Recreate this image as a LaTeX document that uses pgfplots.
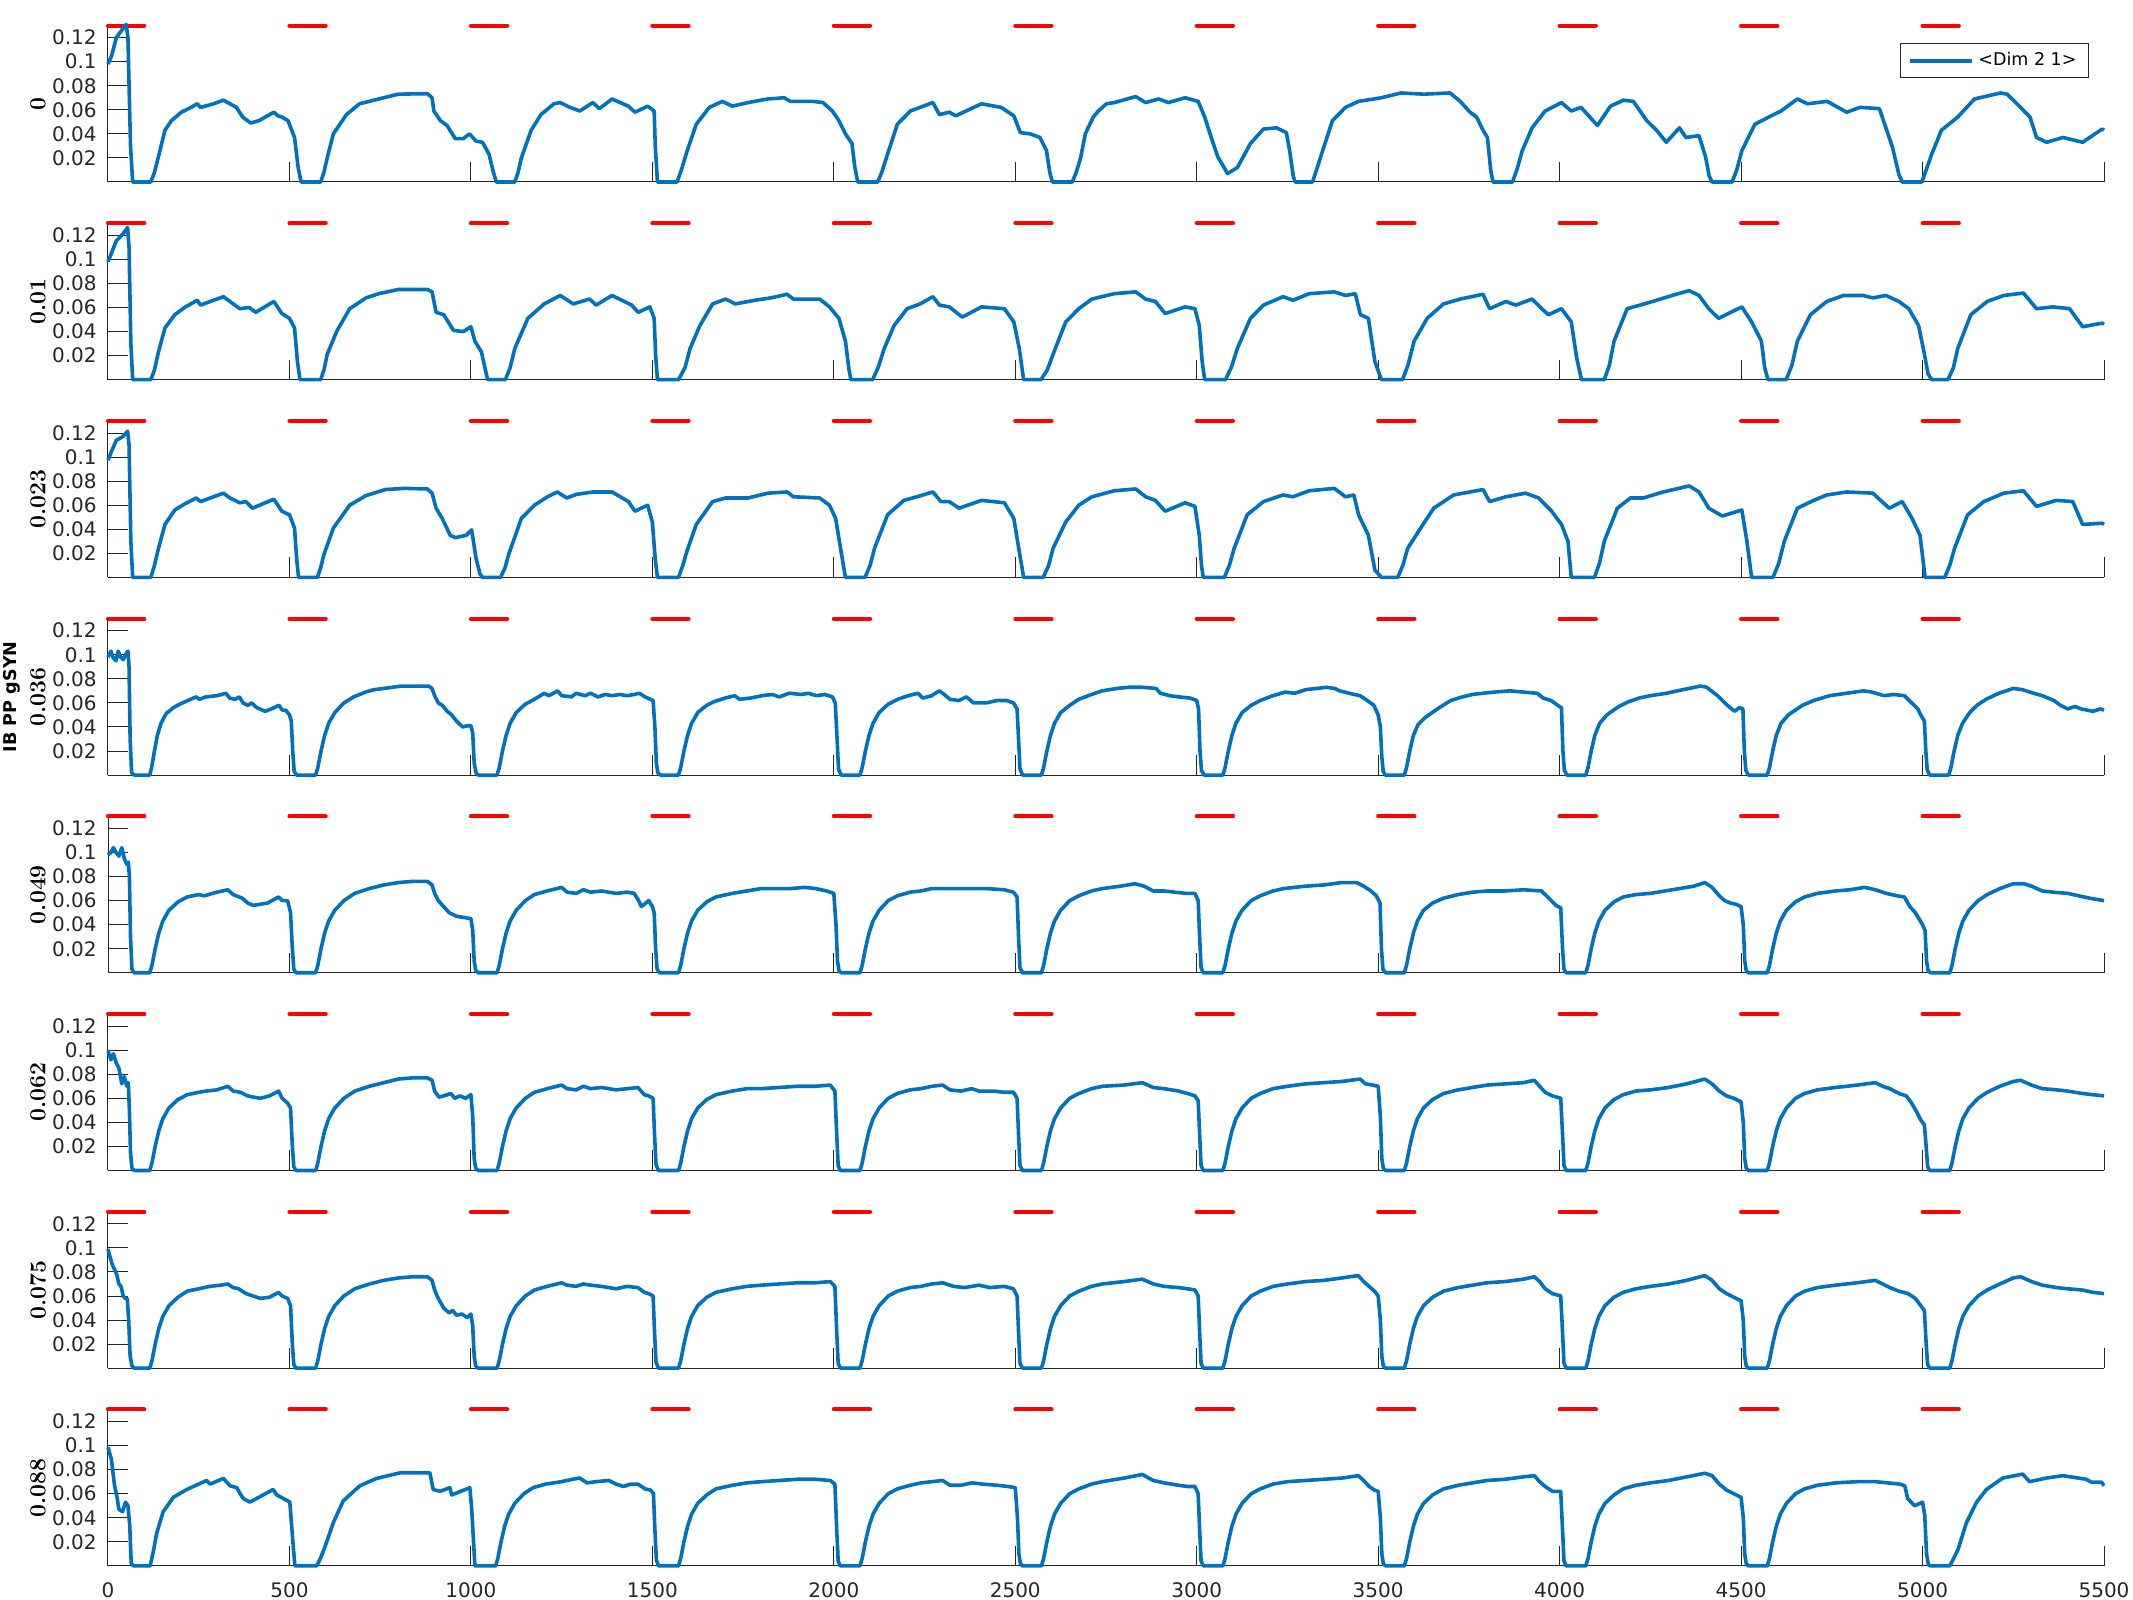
\documentclass[border=0pt]{standalone}
\usepackage{fontspec}
\usepackage{pgfplots}
\pgfplotsset{compat=1.18}
\newfontfamily\dejavu{DejaVu Sans}
\definecolor{mblue}{RGB}{0,114,189}
\definecolor{axgray}{RGB}{38,38,38}
\pgfplotsset{
 panel/.style={
  scale only axis, width=998pt, height=78.2pt,
  xmin=0, xmax=5500, ymin=0, ymax=0.13,
  axis lines*=left, axis line style={-, draw=axgray, line width=0.5pt},
  tick align=inside, major tick length=10pt,
  tick style={draw=axgray, line width=0.5pt},
  xtick={0,500,1000,1500,2000,2500,3000,3500,4000,4500,5000,5500}, xticklabels={},
  ytick={0.02,0.04,0.06,0.08,0.1,0.12},
  yticklabels={0.02,0.04,0.06,0.08,0.1,0.12},
  yticklabel style={font=\dejavu\fontsize{10}{12}\selectfont, text=axgray, inner sep=0pt, xshift=-5.5pt},
  every axis y label/.style={at={(axis description cs:0,0.5)}, xshift=-35pt, rotate=90, anchor=center, font=\bfseries\fontsize{11.5}{13}\selectfont},
  clip=false, anchor=south west,
 },
 sig/.style={mblue, line width=1.8pt, line join=round},
}
\newcommand{\redsegs}{\addplot[red, line width=2pt, line cap=round, unbounded coords=jump, forget plot] coordinates {(0,0.13) (100,0.13) (100,nan) (500,0.13) (600,0.13) (600,nan) (1000,0.13) (1100,0.13) (1100,nan) (1500,0.13) (1600,0.13) (1600,nan) (2000,0.13) (2100,0.13) (2100,nan) (2500,0.13) (2600,0.13) (2600,nan) (3000,0.13) (3100,0.13) (3100,nan) (3500,0.13) (3600,0.13) (3600,nan) (4000,0.13) (4100,0.13) (4100,nan) (4500,0.13) (4600,0.13) (4600,nan) (5000,0.13) (5100,0.13)};}
\begin{document}
\begin{tikzpicture}
\path[use as bounding box] (0,0) rectangle (1066.5pt,800pt);
% panel 1
\begin{axis}[panel, at={(54pt,709pt)}, ylabel={0},
 legend style={at={(1,1)}, anchor=north east, xshift=-7.5pt, yshift=-8.7pt, draw=axgray, line width=0.5pt, font=\dejavu\fontsize{8.75}{10}\selectfont, inner xsep=4pt, inner ysep=2.5pt},
 legend image code/.code={\draw[#1, line width=2pt] (0pt,0pt) -- (31pt,0pt);}]
\redsegs
\addplot[sig] coordinates {(0,0.098) (10,0.105) (23,0.12) (40,0.127) (50,0.131) (55,0.12) (62,0.03) (68,0) (118,0) (128,0.008) (139,0.021) (157,0.043) (175,0.051) (202,0.058) (229,0.062) (246,0.065) (255,0.062) (291,0.065) (318,0.068) (336,0.065) (354,0.062) (371,0.054) (393,0.049) (416,0.051) (457,0.058) (468,0.055) (479,0.054) (496,0.051) (514,0.037) (524,0.012) (532,0) (586,0) (595,0.008) (604,0.02) (621,0.04) (657,0.056) (693,0.065) (746,0.069) (800,0.073) (880,0.0734) (893,0.070) (898,0.059) (916,0.051) (934,0.047) (957,0.036) (979,0.036) (996,0.040) (1014,0.034) (1032,0.033) (1050,0.023) (1062,0.008) (1070,0) (1121,0) (1130,0.008) (1139,0.02) (1166,0.043) (1193,0.056) (1229,0.065) (1246,0.066) (1273,0.062) (1300,0.059) (1336,0.066) (1354,0.061) (1389,0.069) (1434,0.063) (1452,0.058) (1487,0.063) (1505,0.059) (1508,0.03) (1514,0) (1568,0) (1580,0.01) (1596,0.026) (1621,0.048) (1657,0.062) (1693,0.067) (1720,0.063) (1764,0.066) (1818,0.069) (1863,0.070) (1880,0.067) (1943,0.067) (1970,0.066) (1996,0.059) (2014,0.051) (2032,0.040) (2050,0.032) (2058,0.012) (2066,0) (2121,0) (2132,0.008) (2148,0.023) (2175,0.048) (2211,0.059) (2273,0.066) (2291,0.056) (2318,0.058) (2336,0.055) (2407,0.065) (2461,0.062) (2496,0.055) (2514,0.041) (2541,0.040) (2568,0.037) (2586,0.026) (2595,0.008) (2602,0) (2657,0) (2668,0.008) (2680,0.02) (2693,0.04) (2715,0.054) (2729,0.059) (2751,0.065) (2773,0.066) (2832,0.071) (2859,0.066) (2895,0.069) (2922,0.066) (2968,0.070) (3004,0.067) (3022,0.054) (3040,0.037) (3058,0.021) (3085,0.007) (3112,0.012) (3148,0.032) (3184,0.044) (3220,0.045) (3247,0.041) (3256,0.026) (3266,0.005) (3271,0) (3319,0) (3330,0.01) (3347,0.026) (3374,0.051) (3410,0.062) (3446,0.067) (3509,0.070) (3563,0.074) (3626,0.073) (3698,0.074) (3726,0.067) (3753,0.058) (3771,0.054) (3789,0.043) (3801,0.037) (3810,0.01) (3816,0) (3870,0) (3882,0.01) (3897,0.026) (3924,0.045) (3960,0.059) (4005,0.066) (4032,0.059) (4059,0.062) (4104,0.047) (4140,0.063) (4176,0.068) (4203,0.067) (4240,0.051) (4267,0.043) (4294,0.033) (4330,0.045) (4348,0.037) (4384,0.0385) (4402,0.021) (4412,0.005) (4420,0) (4475,0) (4488,0.01) (4502,0.026) (4538,0.048) (4583,0.055) (4610,0.059) (4655,0.069) (4683,0.065) (4737,0.067) (4791,0.058) (4827,0.062) (4881,0.061) (4917,0.029) (4935,0.006) (4944,0) (4998,0) (5010,0.01) (5025,0.023) (5052,0.043) (5097,0.054) (5143,0.069) (5215,0.074) (5233,0.073) (5260,0.065) (5296,0.054) (5314,0.037) (5342,0.033) (5387,0.037) (5441,0.033) (5495,0.044) (5500,0.043)};
\addlegendentry{<Dim 2 1>}
\end{axis}
% panel 2
\begin{axis}[panel, at={(54pt,610.15pt)}, ylabel={0.01}]
\redsegs
\addplot[sig] coordinates {(0,0.098) (23,0.1155) (41,0.121) (54,0.1265) (58,0.11) (63,0.03) (68,0) (118,0) (128,0.008) (139,0.023) (157,0.043) (184,0.054) (211,0.060) (246,0.066) (255,0.062) (318,0.069) (336,0.065) (363,0.059) (389,0.060) (407,0.056) (457,0.065) (479,0.055) (500,0.051) (514,0.043) (522,0.015) (529,0) (586,0) (595,0.008) (604,0.021) (630,0.040) (666,0.059) (711,0.068) (746,0.0715) (800,0.075) (880,0.075) (893,0.073) (904,0.056) (925,0.054) (952,0.041) (979,0.040) (1000,0.044) (1011,0.032) (1029,0.023) (1040,0.008) (1046,0) (1095,0) (1108,0.01) (1121,0.026) (1157,0.051) (1202,0.063) (1246,0.070) (1282,0.063) (1327,0.067) (1345,0.062) (1389,0.070) (1443,0.062) (1461,0.056) (1493,0.0605) (1505,0.051) (1509,0.02) (1514,0) (1572,0) (1590,0.01) (1604,0.026) (1631,0.045) (1666,0.063) (1702,0.067) (1729,0.063) (1782,0.066) (1827,0.068) (1871,0.071) (1889,0.067) (1961,0.067) (1988,0.0605) (2014,0.051) (2032,0.032) (2042,0.008) (2047,0) (2107,0) (2122,0.01) (2139,0.026) (2166,0.045) (2202,0.059) (2238,0.063) (2273,0.069) (2291,0.062) (2318,0.0605) (2354,0.052) (2407,0.0605) (2470,0.059) (2496,0.048) (2511,0.026) (2523,0) (2571,0) (2588,0.008) (2604,0.021) (2639,0.048) (2675,0.059) (2711,0.067) (2773,0.0715) (2832,0.073) (2859,0.067) (2886,0.065) (2913,0.055) (2968,0.0605) (2995,0.059) (3007,0.045) (3015,0.015) (3022,0) (3079,0) (3095,0.01) (3112,0.026) (3148,0.051) (3184,0.062) (3238,0.069) (3265,0.066) (3310,0.0715) (3379,0.073) (3410,0.070) (3437,0.0715) (3451,0.054) (3473,0.051) (3491,0.015) (3509,0) (3567,0) (3582,0.012) (3599,0.032) (3635,0.051) (3680,0.063) (3726,0.067) (3789,0.071) (3807,0.059) (3852,0.065) (3879,0.062) (3924,0.067) (3951,0.059) (3969,0.054) (4005,0.059) (4032,0.048) (4047,0.018) (4060,0) (4123,0) (4137,0.012) (4150,0.032) (4186,0.059) (4222,0.062) (4267,0.066) (4321,0.071) (4357,0.074) (4384,0.070) (4411,0.059) (4438,0.051) (4502,0.0605) (4529,0.048) (4556,0.032) (4565,0.01) (4574,0) (4624,0) (4640,0.012) (4655,0.032) (4691,0.054) (4736,0.065) (4782,0.070) (4836,0.070) (4863,0.068) (4899,0.070) (4935,0.065) (4962,0.059) (4989,0.045) (5004,0.023) (5015,0.005) (5025,0) (5070,0) (5085,0.01) (5097,0.026) (5133,0.054) (5178,0.065) (5224,0.070) (5278,0.072) (5314,0.059) (5359,0.0605) (5405,0.059) (5441,0.044) (5495,0.047) (5500,0.046)};
\end{axis}
% panel 3
\begin{axis}[panel, at={(54pt,511.3pt)}, ylabel={0.023}]
\redsegs
\addplot[sig] coordinates {(0,0.0975) (10,0.105) (23,0.114) (41,0.117) (54,0.1215) (58,0.11) (63,0.03) (68,0) (118,0) (128,0.01) (139,0.024) (157,0.044) (184,0.056) (211,0.061) (243,0.066) (255,0.063) (318,0.070) (336,0.066) (363,0.062) (380,0.063) (398,0.0575) (457,0.065) (479,0.055) (500,0.052) (514,0.041) (520,0.015) (525,0) (577,0) (586,0.008) (595,0.019) (621,0.041) (666,0.060) (711,0.068) (764,0.073) (818,0.074) (880,0.0735) (893,0.070) (904,0.0575) (921,0.049) (943,0.035) (957,0.033) (987,0.035) (1002,0.0395) (1014,0.016) (1025,0.003) (1032,0) (1082,0) (1094,0.008) (1104,0.019) (1139,0.049) (1175,0.060) (1211,0.067) (1238,0.071) (1264,0.066) (1291,0.069) (1336,0.071) (1389,0.071) (1434,0.063) (1452,0.055) (1487,0.060) (1500,0.046) (1508,0.015) (1514,0) (1572,0) (1584,0.01) (1595,0.0215) (1621,0.044) (1666,0.063) (1702,0.066) (1764,0.066) (1818,0.070) (1871,0.071) (1889,0.067) (1961,0.066) (1988,0.060) (2005,0.049) (2020,0.0215) (2032,0) (2086,0) (2100,0.01) (2112,0.024) (2148,0.052) (2193,0.064) (2229,0.067) (2273,0.071) (2295,0.063) (2318,0.063) (2345,0.0575) (2407,0.064) (2470,0.062) (2496,0.049) (2511,0.0215) (2523,0) (2577,0) (2592,0.01) (2604,0.024) (2639,0.046) (2675,0.060) (2711,0.067) (2773,0.072) (2832,0.0735) (2859,0.067) (2886,0.064) (2913,0.055) (2968,0.062) (2995,0.059) (3007,0.035) (3013,0.01) (3018,0) (3076,0) (3090,0.01) (3103,0.024) (3139,0.052) (3184,0.063) (3238,0.0685) (3265,0.067) (3310,0.072) (3379,0.074) (3410,0.067) (3433,0.0685) (3446,0.052) (3473,0.035) (3491,0.006) (3509,0) (3554,0) (3568,0.01) (3581,0.024) (3617,0.041) (3653,0.0575) (3708,0.0685) (3789,0.073) (3807,0.063) (3852,0.067) (3906,0.070) (3942,0.066) (3978,0.055) (4005,0.044) (4023,0.030) (4032,0) (4096,0) (4110,0.012) (4123,0.030) (4159,0.0575) (4195,0.066) (4231,0.066) (4285,0.071) (4357,0.076) (4384,0.071) (4411,0.0575) (4448,0.051) (4502,0.056) (4516,0.030) (4529,0) (4588,0) (4604,0.012) (4619,0.030) (4655,0.0575) (4700,0.064) (4736,0.0685) (4791,0.071) (4863,0.070) (4908,0.0575) (4944,0.063) (4971,0.049) (4993,0.035) (5007,0) (5061,0) (5075,0.01) (5088,0.024) (5124,0.052) (5169,0.063) (5224,0.070) (5278,0.072) (5314,0.059) (5368,0.064) (5414,0.063) (5441,0.044) (5495,0.045) (5500,0.044)};
\end{axis}
% panel 4
\begin{axis}[panel, at={(54pt,412.45pt)}, ylabel={0.036}]
\redsegs
\addplot[sig] coordinates {(0,0.098) (8,0.103) (15,0.097) (22,0.095) (28,0.103) (35,0.098) (42,0.096) (50,0.101) (55,0.103) (58,0.09) (61,0.03) (65,0.002) (72,0) (115,0) (120,0.006) (128,0.02) (136,0.033) (146,0.043) (160,0.051) (180,0.056) (198,0.059) (220,0.062) (243,0.065) (252,0.063) (270,0.065) (300,0.066) (325,0.068) (335,0.064) (350,0.063) (362,0.065) (372,0.06) (385,0.058) (396,0.06) (410,0.056) (433,0.053) (450,0.055) (471,0.058) (480,0.054) (490,0.054) (500,0.05) (505,0.045) (509,0.02) (513,0.003) (520,0) (572,0) (578,0.006) (587,0.02) (597,0.033) (608,0.043) (625,0.052) (650,0.06) (677,0.065) (710,0.069) (733,0.071) (760,0.072) (808,0.074) (850,0.074) (883,0.074) (893,0.072) (900,0.066) (910,0.06) (921,0.058) (935,0.053) (947,0.05) (960,0.045) (977,0.04) (990,0.041) (1000,0.041) (1005,0.035) (1009,0.01) (1014,0.002) (1020,0) (1072,0) (1078,0.006) (1087,0.02) (1097,0.033) (1108,0.043) (1125,0.052) (1150,0.059) (1175,0.063) (1202,0.068) (1215,0.066) (1239,0.07) (1250,0.066) (1277,0.065) (1290,0.068) (1314,0.066) (1330,0.068) (1350,0.065) (1370,0.067) (1389,0.066) (1410,0.067) (1430,0.066) (1450,0.067) (1464,0.068) (1480,0.065) (1502,0.062) (1507,0.04) (1511,0.01) (1515,0.002) (1522,0) (1572,0) (1578,0.006) (1587,0.02) (1597,0.033) (1608,0.043) (1625,0.052) (1650,0.058) (1670,0.061) (1700,0.064) (1727,0.066) (1740,0.063) (1770,0.064) (1802,0.066) (1830,0.067) (1850,0.065) (1877,0.068) (1910,0.067) (1930,0.068) (1952,0.066) (1975,0.067) (1996,0.065) (2004,0.06) (2009,0.03) (2013,0.005) (2020,0) (2072,0) (2078,0.006) (2087,0.02) (2097,0.033) (2108,0.043) (2125,0.052) (2150,0.059) (2176,0.063) (2205,0.066) (2232,0.068) (2245,0.064) (2270,0.066) (2290,0.07) (2300,0.068) (2320,0.063) (2345,0.062) (2365,0.065) (2385,0.06) (2420,0.06) (2450,0.062) (2476,0.062) (2495,0.06) (2505,0.055) (2509,0.03) (2513,0.005) (2520,0) (2572,0) (2578,0.006) (2587,0.02) (2597,0.033) (2608,0.043) (2625,0.052) (2650,0.058) (2675,0.063) (2710,0.067) (2739,0.07) (2780,0.072) (2813,0.073) (2850,0.073) (2888,0.072) (2900,0.068) (2926,0.066) (2950,0.065) (2982,0.064) (3000,0.062) (3005,0.055) (3009,0.02) (3013,0.004) (3020,0) (3072,0) (3078,0.006) (3087,0.02) (3097,0.033) (3108,0.043) (3125,0.052) (3150,0.058) (3175,0.062) (3210,0.066) (3244,0.069) (3270,0.068) (3300,0.071) (3330,0.072) (3357,0.073) (3380,0.072) (3394,0.07) (3420,0.068) (3450,0.066) (3470,0.062) (3488,0.058) (3500,0.05) (3506,0.04) (3510,0.015) (3514,0.003) (3520,0) (3572,0) (3578,0.006) (3587,0.02) (3597,0.033) (3610,0.042) (3630,0.048) (3668,0.056) (3700,0.062) (3732,0.065) (3760,0.067) (3788,0.068) (3820,0.069) (3863,0.07) (3900,0.069) (3938,0.068) (3955,0.064) (3976,0.062) (3995,0.058) (4005,0.056) (4009,0.02) (4013,0.004) (4020,0) (4072,0) (4078,0.006) (4087,0.02) (4097,0.033) (4110,0.043) (4130,0.05) (4163,0.057) (4190,0.061) (4219,0.064) (4250,0.066) (4294,0.068) (4340,0.071) (4388,0.074) (4405,0.073) (4418,0.07) (4435,0.066) (4455,0.06) (4470,0.056) (4482,0.053) (4495,0.056) (4505,0.055) (4509,0.02) (4513,0.004) (4520,0) (4572,0) (4578,0.006) (4587,0.02) (4597,0.033) (4610,0.043) (4630,0.05) (4669,0.058) (4700,0.062) (4744,0.066) (4790,0.068) (4837,0.07) (4860,0.069) (4894,0.066) (4920,0.067) (4950,0.066) (4970,0.06) (4987,0.055) (4995,0.05) (5005,0.045) (5009,0.02) (5013,0.004) (5020,0) (5072,0) (5078,0.006) (5087,0.02) (5097,0.033) (5110,0.043) (5130,0.052) (5150,0.058) (5175,0.063) (5210,0.068) (5250,0.072) (5275,0.071) (5306,0.068) (5330,0.066) (5362,0.062) (5380,0.058) (5400,0.055) (5420,0.057) (5437,0.055) (5470,0.053) (5490,0.055) (5500,0.054)};
\end{axis}
% panel 5
\begin{axis}[panel, at={(54pt,313.6pt)}, ylabel={0.049}]
\redsegs
\addplot[sig] coordinates {(0,0.098) (8,0.1) (15,0.104) (22,0.1) (30,0.097) (38,0.104) (45,0.095) (52,0.09) (56,0.092) (59,0.08) (62,0.03) (66,0.003) (72,0) (115,0) (121,0.006) (130,0.02) (140,0.033) (151,0.043) (168,0.052) (193,0.059) (218,0.063) (250,0.065) (265,0.064) (300,0.067) (330,0.069) (345,0.065) (370,0.062) (385,0.058) (400,0.056) (420,0.057) (440,0.058) (470,0.063) (480,0.06) (495,0.06) (503,0.05) (508,0.02) (512,0.003) (518,0) (572,0) (578,0.006) (587,0.02) (597,0.033) (608,0.043) (625,0.052) (650,0.06) (680,0.066) (720,0.07) (760,0.073) (800,0.075) (840,0.076) (880,0.076) (893,0.073) (900,0.066) (910,0.06) (925,0.055) (940,0.05) (960,0.047) (980,0.046) (1000,0.045) (1005,0.035) (1009,0.01) (1013,0.002) (1020,0) (1072,0) (1078,0.006) (1087,0.02) (1097,0.033) (1108,0.043) (1125,0.052) (1150,0.06) (1175,0.065) (1210,0.068) (1250,0.071) (1265,0.067) (1290,0.066) (1310,0.069) (1330,0.067) (1360,0.068) (1400,0.066) (1430,0.067) (1450,0.066) (1462,0.06) (1470,0.055) (1482,0.058) (1490,0.06) (1500,0.055) (1505,0.05) (1509,0.02) (1513,0.003) (1520,0) (1572,0) (1578,0.006) (1587,0.02) (1597,0.033) (1608,0.043) (1625,0.052) (1650,0.059) (1675,0.063) (1720,0.066) (1760,0.068) (1800,0.07) (1840,0.07) (1880,0.07) (1920,0.071) (1950,0.07) (1980,0.068) (2000,0.066) (2006,0.04) (2010,0.01) (2014,0.002) (2020,0) (2072,0) (2078,0.006) (2087,0.02) (2097,0.033) (2108,0.043) (2125,0.052) (2150,0.06) (2175,0.064) (2210,0.067) (2240,0.068) (2270,0.07) (2300,0.07) (2340,0.07) (2380,0.07) (2420,0.07) (2470,0.069) (2495,0.067) (2505,0.063) (2509,0.03) (2513,0.004) (2520,0) (2572,0) (2578,0.006) (2587,0.02) (2597,0.033) (2608,0.043) (2625,0.052) (2650,0.06) (2675,0.064) (2710,0.068) (2740,0.07) (2790,0.072) (2830,0.074) (2855,0.072) (2880,0.068) (2910,0.068) (2940,0.067) (2970,0.066) (2995,0.066) (3004,0.06) (3008,0.03) (3012,0.004) (3018,0) (3072,0) (3078,0.006) (3087,0.02) (3097,0.033) (3108,0.043) (3125,0.052) (3150,0.06) (3175,0.064) (3210,0.068) (3240,0.07) (3300,0.072) (3350,0.073) (3400,0.075) (3440,0.075) (3460,0.072) (3480,0.068) (3495,0.064) (3505,0.058) (3509,0.02) (3513,0.003) (3520,0) (3572,0) (3578,0.006) (3587,0.02) (3597,0.033) (3608,0.043) (3625,0.052) (3650,0.058) (3680,0.062) (3720,0.065) (3760,0.067) (3800,0.068) (3850,0.068) (3900,0.069) (3950,0.068) (3970,0.062) (3990,0.056) (4003,0.054) (4008,0.02) (4012,0.003) (4018,0) (4072,0) (4078,0.006) (4087,0.02) (4097,0.033) (4108,0.043) (4125,0.052) (4150,0.059) (4175,0.063) (4210,0.065) (4250,0.066) (4290,0.068) (4330,0.07) (4370,0.072) (4400,0.075) (4420,0.071) (4440,0.064) (4455,0.06) (4470,0.058) (4485,0.057) (4500,0.055) (4506,0.04) (4510,0.01) (4514,0.002) (4520,0) (4572,0) (4578,0.006) (4587,0.02) (4597,0.033) (4608,0.043) (4625,0.052) (4650,0.059) (4675,0.063) (4710,0.066) (4760,0.068) (4800,0.069) (4840,0.071) (4870,0.069) (4900,0.066) (4930,0.064) (4950,0.063) (4965,0.055) (4980,0.05) (4990,0.045) (5000,0.04) (5007,0.035) (5011,0.01) (5015,0.002) (5022,0) (5075,0) (5081,0.006) (5090,0.02) (5100,0.033) (5111,0.043) (5128,0.052) (5153,0.06) (5178,0.065) (5213,0.07) (5250,0.074) (5280,0.074) (5300,0.072) (5330,0.068) (5360,0.067) (5400,0.066) (5430,0.064) (5460,0.062) (5500,0.06)};
\end{axis}
% panel 6
\begin{axis}[panel, at={(54pt,214.75pt)}, ylabel={0.062}]
\redsegs
\addplot[sig] coordinates {(0,0.1) (8,0.092) (15,0.097) (22,0.09) (30,0.085) (38,0.072) (45,0.078) (52,0.07) (56,0.073) (59,0.05) (62,0.015) (66,0.002) (72,0) (115,0) (121,0.006) (130,0.02) (140,0.033) (151,0.043) (168,0.052) (193,0.059) (218,0.063) (250,0.065) (270,0.066) (300,0.067) (330,0.07) (345,0.066) (365,0.065) (385,0.062) (400,0.061) (420,0.06) (445,0.062) (470,0.066) (480,0.06) (495,0.056) (503,0.052) (508,0.02) (512,0.003) (518,0) (572,0) (578,0.006) (587,0.02) (597,0.033) (608,0.043) (625,0.052) (650,0.06) (680,0.066) (720,0.07) (760,0.073) (800,0.076) (840,0.077) (880,0.077) (893,0.075) (900,0.066) (912,0.061) (925,0.062) (945,0.064) (955,0.06) (970,0.062) (985,0.06) (1000,0.063) (1005,0.045) (1009,0.01) (1013,0.002) (1020,0) (1072,0) (1078,0.006) (1087,0.02) (1097,0.033) (1108,0.043) (1125,0.052) (1150,0.06) (1175,0.065) (1210,0.068) (1250,0.071) (1265,0.068) (1290,0.067) (1310,0.07) (1330,0.068) (1360,0.069) (1400,0.067) (1430,0.068) (1460,0.069) (1478,0.063) (1490,0.062) (1502,0.06) (1506,0.03) (1510,0.005) (1517,0) (1572,0) (1578,0.006) (1587,0.02) (1597,0.033) (1608,0.043) (1625,0.052) (1650,0.059) (1675,0.063) (1720,0.066) (1760,0.068) (1800,0.068) (1850,0.069) (1900,0.07) (1950,0.07) (1990,0.071) (2003,0.066) (2008,0.03) (2012,0.004) (2018,0) (2072,0) (2078,0.006) (2087,0.02) (2097,0.033) (2108,0.043) (2125,0.052) (2150,0.06) (2175,0.064) (2210,0.067) (2240,0.068) (2270,0.07) (2300,0.071) (2320,0.067) (2350,0.066) (2380,0.068) (2400,0.066) (2440,0.066) (2470,0.065) (2495,0.065) (2505,0.06) (2509,0.03) (2513,0.004) (2520,0) (2572,0) (2578,0.006) (2587,0.02) (2597,0.033) (2608,0.043) (2625,0.052) (2650,0.06) (2675,0.064) (2710,0.068) (2740,0.07) (2800,0.071) (2850,0.073) (2880,0.069) (2910,0.068) (2950,0.066) (2975,0.064) (2995,0.062) (3004,0.058) (3008,0.03) (3012,0.004) (3018,0) (3072,0) (3078,0.006) (3087,0.02) (3097,0.033) (3108,0.043) (3125,0.052) (3150,0.06) (3175,0.064) (3210,0.068) (3250,0.07) (3300,0.072) (3350,0.073) (3400,0.074) (3450,0.076) (3465,0.072) (3485,0.071) (3500,0.07) (3506,0.045) (3510,0.01) (3514,0.002) (3520,0) (3572,0) (3578,0.006) (3587,0.02) (3597,0.033) (3608,0.043) (3625,0.052) (3650,0.059) (3680,0.064) (3720,0.067) (3760,0.069) (3800,0.071) (3850,0.072) (3900,0.073) (3930,0.075) (3945,0.07) (3960,0.065) (3980,0.062) (4003,0.06) (4008,0.03) (4012,0.004) (4018,0) (4072,0) (4078,0.006) (4087,0.02) (4097,0.033) (4108,0.043) (4125,0.052) (4150,0.059) (4175,0.063) (4210,0.066) (4250,0.067) (4300,0.069) (4350,0.072) (4400,0.076) (4420,0.072) (4440,0.066) (4460,0.062) (4480,0.06) (4500,0.057) (4506,0.04) (4510,0.01) (4514,0.002) (4520,0) (4572,0) (4578,0.006) (4587,0.02) (4597,0.033) (4608,0.043) (4625,0.052) (4650,0.06) (4675,0.064) (4710,0.067) (4760,0.069) (4820,0.071) (4870,0.073) (4890,0.07) (4910,0.068) (4935,0.064) (4955,0.062) (4970,0.056) (4985,0.048) (4995,0.042) (5005,0.038) (5010,0.02) (5014,0.003) (5020,0) (5075,0) (5081,0.006) (5090,0.02) (5100,0.033) (5111,0.043) (5128,0.052) (5153,0.06) (5178,0.065) (5213,0.07) (5250,0.074) (5270,0.075) (5300,0.071) (5330,0.068) (5370,0.067) (5400,0.066) (5440,0.064) (5470,0.063) (5500,0.062)};
\end{axis}
% panel 7
\begin{axis}[panel, at={(54pt,115.9pt)}, ylabel={0.075}]
\redsegs
\addplot[sig] coordinates {(0,0.099) (6,0.092) (12,0.086) (18,0.082) (24,0.078) (30,0.07) (36,0.068) (42,0.06) (48,0.058) (53,0.058) (57,0.04) (61,0.01) (66,0.002) (72,0) (115,0) (121,0.006) (130,0.02) (140,0.033) (151,0.043) (168,0.052) (193,0.059) (218,0.064) (250,0.066) (280,0.068) (310,0.069) (330,0.07) (345,0.067) (360,0.066) (380,0.062) (400,0.06) (420,0.058) (445,0.059) (470,0.063) (480,0.06) (495,0.058) (503,0.052) (508,0.02) (512,0.003) (518,0) (572,0) (578,0.006) (587,0.02) (597,0.033) (608,0.043) (625,0.052) (650,0.06) (680,0.066) (720,0.07) (760,0.073) (800,0.075) (840,0.076) (880,0.076) (893,0.073) (900,0.065) (910,0.058) (925,0.05) (940,0.046) (950,0.048) (960,0.044) (975,0.045) (990,0.042) (1000,0.045) (1005,0.035) (1009,0.01) (1013,0.002) (1020,0) (1072,0) (1078,0.006) (1087,0.02) (1097,0.033) (1108,0.043) (1125,0.052) (1150,0.06) (1175,0.065) (1210,0.068) (1250,0.071) (1265,0.069) (1290,0.068) (1310,0.07) (1330,0.069) (1360,0.068) (1400,0.066) (1430,0.068) (1460,0.067) (1478,0.063) (1490,0.062) (1502,0.06) (1506,0.03) (1510,0.005) (1517,0) (1572,0) (1578,0.006) (1587,0.02) (1597,0.033) (1608,0.043) (1625,0.052) (1650,0.059) (1675,0.063) (1720,0.066) (1760,0.068) (1800,0.069) (1850,0.07) (1900,0.071) (1950,0.071) (1990,0.072) (2003,0.068) (2008,0.03) (2012,0.004) (2018,0) (2072,0) (2078,0.006) (2087,0.02) (2097,0.033) (2108,0.043) (2125,0.052) (2150,0.06) (2175,0.064) (2210,0.067) (2240,0.068) (2270,0.07) (2300,0.071) (2330,0.068) (2360,0.067) (2400,0.069) (2430,0.067) (2470,0.068) (2495,0.066) (2505,0.06) (2509,0.03) (2513,0.004) (2520,0) (2572,0) (2578,0.006) (2587,0.02) (2597,0.033) (2608,0.043) (2625,0.052) (2650,0.06) (2675,0.064) (2710,0.068) (2740,0.07) (2800,0.072) (2850,0.074) (2880,0.07) (2910,0.068) (2950,0.067) (2975,0.066) (2995,0.065) (3004,0.06) (3008,0.03) (3012,0.004) (3018,0) (3072,0) (3078,0.006) (3087,0.02) (3097,0.033) (3108,0.043) (3125,0.052) (3150,0.06) (3175,0.064) (3210,0.068) (3250,0.07) (3300,0.072) (3350,0.073) (3400,0.075) (3445,0.077) (3460,0.072) (3475,0.068) (3490,0.064) (3500,0.06) (3506,0.04) (3510,0.01) (3514,0.002) (3520,0) (3572,0) (3578,0.006) (3587,0.02) (3597,0.033) (3608,0.043) (3625,0.052) (3650,0.059) (3680,0.064) (3720,0.067) (3760,0.069) (3800,0.071) (3850,0.072) (3900,0.074) (3930,0.076) (3945,0.072) (3960,0.066) (3980,0.062) (4003,0.06) (4008,0.03) (4012,0.004) (4018,0) (4072,0) (4078,0.006) (4087,0.02) (4097,0.033) (4108,0.043) (4125,0.052) (4150,0.059) (4175,0.063) (4210,0.066) (4250,0.068) (4300,0.07) (4350,0.073) (4400,0.077) (4420,0.073) (4440,0.066) (4460,0.062) (4480,0.059) (4500,0.056) (4506,0.04) (4510,0.01) (4514,0.002) (4520,0) (4572,0) (4578,0.006) (4587,0.02) (4597,0.033) (4608,0.043) (4625,0.052) (4650,0.06) (4675,0.064) (4710,0.067) (4760,0.069) (4820,0.071) (4870,0.073) (4890,0.07) (4910,0.067) (4935,0.064) (4960,0.062) (4980,0.058) (4995,0.052) (5005,0.048) (5010,0.02) (5014,0.003) (5020,0) (5075,0) (5081,0.006) (5090,0.02) (5100,0.033) (5111,0.043) (5128,0.052) (5153,0.06) (5178,0.065) (5213,0.07) (5250,0.075) (5270,0.076) (5300,0.072) (5330,0.069) (5370,0.067) (5400,0.066) (5440,0.065) (5470,0.063) (5500,0.062)};
\end{axis}
% panel 8
\begin{axis}[panel, at={(54pt,17.05pt)}, ylabel={0.088},
 xticklabels={0,500,1000,1500,2000,2500,3000,3500,4000,4500,5000,5500},
 xticklabel style={font=\dejavu\fontsize{10}{12}\selectfont, text=axgray, inner sep=0pt, anchor=north, yshift=-8pt}]
\redsegs
\addplot[sig] coordinates {(0,0.0986) (9,0.089) (18,0.067) (25,0.057) (30,0.047) (40,0.045) (48,0.053) (55,0.05) (60,0.033) (64,0.002) (70,0) (116,0) (125,0.012) (134,0.027) (152,0.045) (180,0.057) (217,0.0635) (272,0.071) (281,0.068) (318,0.0727) (336,0.0666) (355,0.065) (364,0.060) (373,0.056) (391,0.053) (455,0.0635) (465,0.059) (483,0.056) (501,0.053) (510,0.018) (515,0) (575,0) (585,0.006) (598,0.016) (621,0.036) (648,0.054) (694,0.0666) (740,0.0727) (804,0.0773) (887,0.0773) (896,0.0635) (915,0.062) (942,0.065) (947,0.059) (997,0.065) (1002,0.048) (1011,0) (1068,0) (1074,0.006) (1083,0.02) (1093,0.033) (1104,0.043) (1121,0.052) (1146,0.06) (1171,0.065) (1206,0.068) (1250,0.07) (1280,0.072) (1300,0.073) (1320,0.069) (1345,0.07) (1380,0.071) (1400,0.068) (1420,0.066) (1440,0.068) (1460,0.068) (1480,0.064) (1495,0.063) (1503,0.06) (1507,0.03) (1511,0.005) (1517,0) (1572,0) (1578,0.006) (1587,0.02) (1597,0.033) (1608,0.043) (1625,0.052) (1650,0.059) (1675,0.064) (1720,0.067) (1760,0.069) (1800,0.07) (1850,0.071) (1900,0.072) (1950,0.072) (1990,0.071) (2003,0.068) (2008,0.03) (2012,0.004) (2018,0) (2072,0) (2078,0.006) (2087,0.02) (2097,0.033) (2108,0.043) (2125,0.052) (2150,0.06) (2175,0.064) (2210,0.067) (2240,0.069) (2270,0.07) (2300,0.071) (2320,0.067) (2350,0.067) (2380,0.069) (2410,0.068) (2450,0.067) (2480,0.066) (2500,0.065) (2506,0.04) (2510,0.01) (2514,0.002) (2520,0) (2572,0) (2578,0.006) (2587,0.02) (2597,0.033) (2608,0.043) (2625,0.052) (2650,0.06) (2675,0.064) (2710,0.068) (2740,0.07) (2800,0.073) (2850,0.076) (2880,0.071) (2910,0.069) (2950,0.067) (2975,0.066) (2995,0.066) (3004,0.06) (3008,0.03) (3012,0.004) (3018,0) (3072,0) (3078,0.006) (3087,0.02) (3097,0.033) (3108,0.043) (3125,0.052) (3150,0.06) (3175,0.064) (3210,0.068) (3250,0.07) (3300,0.071) (3350,0.072) (3400,0.073) (3445,0.075) (3460,0.071) (3475,0.066) (3490,0.063) (3500,0.062) (3506,0.04) (3510,0.01) (3514,0.002) (3520,0) (3572,0) (3578,0.006) (3587,0.02) (3597,0.033) (3608,0.043) (3625,0.052) (3650,0.059) (3680,0.064) (3720,0.067) (3760,0.069) (3800,0.071) (3850,0.072) (3900,0.074) (3930,0.075) (3945,0.07) (3960,0.066) (3980,0.062) (4003,0.062) (4008,0.03) (4012,0.004) (4018,0) (4072,0) (4078,0.006) (4087,0.02) (4097,0.033) (4108,0.043) (4125,0.052) (4150,0.059) (4175,0.064) (4210,0.067) (4250,0.069) (4300,0.071) (4350,0.074) (4400,0.077) (4420,0.075) (4440,0.068) (4460,0.063) (4480,0.06) (4500,0.057) (4506,0.04) (4510,0.01) (4514,0.002) (4520,0) (4572,0) (4578,0.006) (4587,0.02) (4597,0.033) (4608,0.043) (4625,0.052) (4650,0.06) (4675,0.064) (4710,0.067) (4760,0.069) (4820,0.07) (4870,0.07) (4937,0.068) (4951,0.0666) (4959,0.056) (4978,0.05) (5000,0.053) (5006,0.042) (5011,0.01) (5016,0.001) (5022,0) (5075,0) (5097,0.013) (5121,0.036) (5149,0.053) (5176,0.0635) (5221,0.073) (5276,0.0763) (5295,0.070) (5341,0.073) (5386,0.075) (5451,0.072) (5465,0.0696) (5493,0.0696) (5500,0.0666)};
\end{axis}
\node[rotate=90, font=\dejavu\bfseries\fontsize{8.8}{10}\selectfont] at (6pt,451.55pt) {IB PP gSYN};
\end{tikzpicture}
\end{document}
